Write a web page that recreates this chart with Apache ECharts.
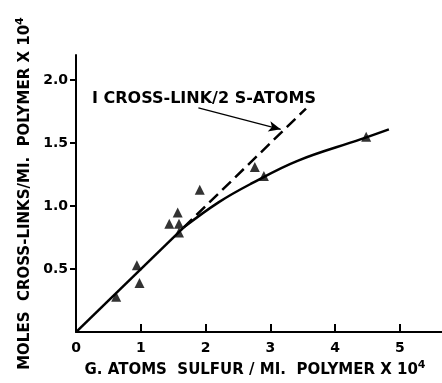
<!DOCTYPE html>
<html>
<head>
<meta charset="utf-8">
<script src="https://cdn.jsdelivr.net/npm/echarts@6/dist/echarts.min.js"></script>
<style>
  html, body { margin: 0; padding: 0; background: #fff; }
  #chart { width: 442px; height: 383px; }
</style>
</head>
<body>
<div id="chart"></div>
<script>
// values in units of 10^4
const sulfur = [0.62, 0.94, 0.98, 1.44, 1.57, 1.59, 1.59, 1.91, 2.76, 2.90, 4.48];
const crossLinks = [0.28, 0.53, 0.39, 0.86, 0.95, 0.86, 0.79, 1.13, 1.31, 1.24, 1.55];

// common straight part (solid), then theory 1 cross-link / 2 S atoms (dashed)
const lowX = [0, 1.66];
const lowY = [0, 0.83];
const theoryX = [1.66, 3.55];
const theoryY = [0.83, 1.775];

// drawn fit curve beyond the straight part
const fitX = [1.66, 2.2, 2.71, 3.42, 4.39, 4.83];
const fitY = [0.83, 1.03, 1.18, 1.36, 1.53, 1.61];

const xTicks = [0, 1, 2, 3, 4, 5];
const yTicks = [0.5, 1.0, 1.5, 2.0];

// annotation arrow (data coords)
const arrowFrom = [1.89, 1.78];
const arrowTo = [3.16, 1.61];

const font = '"DejaVu Sans", sans-serif';
const zip = (a, b) => a.map((v, i) => [v, b[i]]);
const supRich = { s: { fontSize: 11, fontWeight: 'bold', fontFamily: '"DejaVu Sans", sans-serif', verticalAlign: 'top', padding: [0, 0, 10, 0] } };

const chart = echarts.init(document.getElementById('chart'), null, { renderer: 'canvas' });

const option = {
  animation: false,
  grid: { left: 76, top: 55, width: 370, height: 285 },
  xAxis: {
    type: 'value',
    min: 0,
    max: 5.65,
    interval: 1,
    name: 'G. ATOMS  SULFUR / MI.  POLYMER X 10{s|4}',
    nameLocation: 'middle',
    nameGap: 24,
    nameTextStyle: { color: '#000', fontFamily: font, fontSize: 15, fontWeight: 'bold', padding: [0, 0, 0, -8], rich: supRich },
    axisLine: { lineStyle: { color: '#000', width: 2 } },
    axisTick: { inside: true, length: 8, customValues: xTicks, lineStyle: { color: '#000', width: 2 } },
    splitLine: { show: false },
    axisLabel: {
      color: '#000', fontFamily: font, fontSize: 14, fontWeight: 'bold', margin: 9,
      showMaxLabel: false,
      formatter: v => (xTicks.includes(v) ? String(v) : '')
    }
  },
  yAxis: {
    type: 'value',
    min: 0,
    max: 2.2,
    interval: 0.5,
    name: 'MOLES  CROSS-LINKS/MI.  POLYMER X 10{s|4}',
    nameLocation: 'middle',
    nameRotate: 90,
    nameGap: 35,
    nameTextStyle: { color: '#000', fontFamily: font, fontSize: 15, fontWeight: 'bold', rich: supRich },
    axisLine: { show: true, lineStyle: { color: '#000', width: 2 } },
    axisTick: { show: true, length: 6, customValues: yTicks, lineStyle: { color: '#000', width: 2 } },
    splitLine: { show: false },
    axisLabel: {
      color: '#000', fontFamily: font, fontSize: 14, fontWeight: 'bold', margin: 8,
      showMaxLabel: false,
      formatter: v => (yTicks.includes(v) ? v.toFixed(1) : '')
    }
  },
  graphic: [{
    type: 'text',
    left: 92,
    top: 91,
    style: { text: 'I CROSS-LINK/2 S-ATOMS', fill: '#000', font: 'bold 16px ' + font }
  }],
  series: [
    {
      type: 'line',
      data: zip(lowX, lowY),
      showSymbol: false,
      lineStyle: { color: '#000', width: 2.5 },
      z: 2
    },
    {
      type: 'line',
      data: zip(theoryX, theoryY),
      showSymbol: false,
      lineStyle: { color: '#000', width: 2.5, type: [12, 6] },
      z: 2
    },
    {
      type: 'line',
      data: zip(fitX, fitY),
      smooth: 0.4,
      showSymbol: false,
      lineStyle: { color: '#000', width: 2.5 },
      z: 2,
      markLine: {
        silent: true,
        symbol: ['none', 'arrow'],
        symbolSize: [8, 12],
        label: { show: false },
        lineStyle: { color: '#000', width: 1.2, type: 'solid', curveness: 0.2 },
        data: [[{ coord: arrowFrom }, { coord: arrowTo }]]
      }
    },
    {
      type: 'scatter',
      data: zip(sulfur, crossLinks),
      symbol: 'triangle',
      symbolSize: 10,
      itemStyle: { color: '#000' },
      z: 3
    }
  ]
};

chart.setOption(option);
</script>
</body>
</html>
